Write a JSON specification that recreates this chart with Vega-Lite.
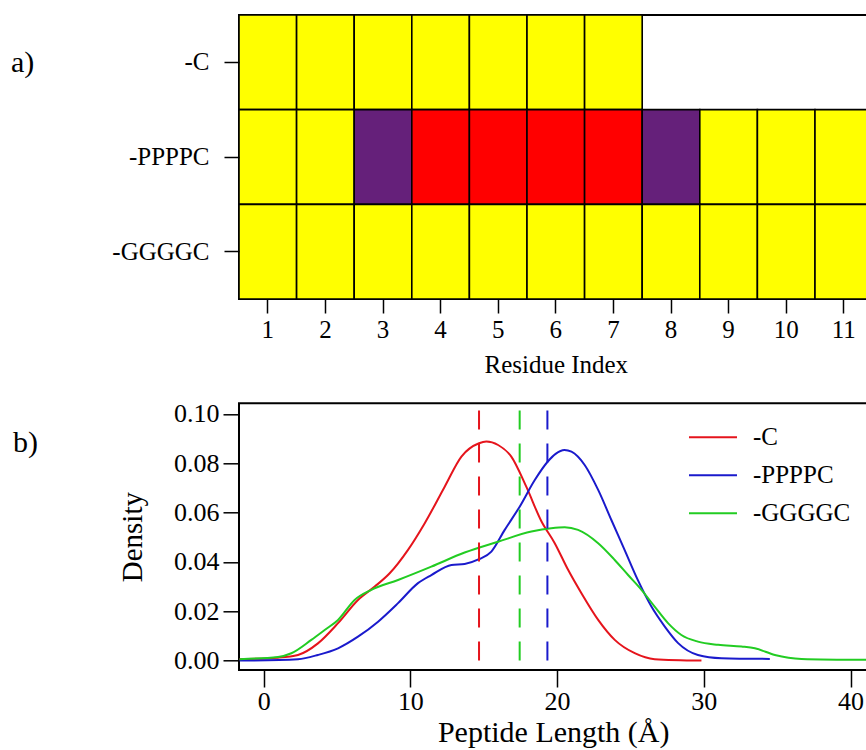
{
  "$schema": "https://vega.github.io/schema/vega-lite/v6.json",
  "background": "white",
  "padding": {"left": 10, "top": 14, "right": 0, "bottom": 0},
  "autosize": {"type": "pad"},
  "bounds": "flush",
  "spacing": 104.3,
  "resolve": {"scale": {"color": "independent", "stroke": "independent"}, "legend": {"color": "independent"}},
  "config": {
    "font": "Liberation Serif",
    "view": {"stroke": "black", "strokeWidth": 2},
    "axis": {
      "labelFont": "Liberation Serif", "titleFont": "Liberation Serif",
      "labelColor": "black", "titleColor": "black", "tickColor": "black",
      "domain": false, "grid": false, "tickWidth": 1.5,
      "titleFontWeight": "normal", "labelFontSize": 25, "titleFontSize": 25
    },
    "legend": {"labelFont": "Liberation Serif"},
    "title": {"font": "Liberation Serif", "fontWeight": "normal", "fontSize": 30, "color": "black"}
  },
  "vconcat": [
    {
      "width": 628.4,
      "height": 284,
      "title": {"text": "a)", "anchor": "start", "frame": "group", "offset": 0, "baseline": "middle", "dx": -228, "dy": 78},
      "data": {"values": [
        {"peptide": "-C", "residue": 1, "state": "Coil"},
        {"peptide": "-C", "residue": 2, "state": "Coil"},
        {"peptide": "-C", "residue": 3, "state": "Coil"},
        {"peptide": "-C", "residue": 4, "state": "Coil"},
        {"peptide": "-C", "residue": 5, "state": "Coil"},
        {"peptide": "-C", "residue": 6, "state": "Coil"},
        {"peptide": "-C", "residue": 7, "state": "Coil"},
        {"peptide": "-PPPPC", "residue": 1, "state": "Coil"},
        {"peptide": "-PPPPC", "residue": 2, "state": "Coil"},
        {"peptide": "-PPPPC", "residue": 3, "state": "Bend"},
        {"peptide": "-PPPPC", "residue": 4, "state": "PPII"},
        {"peptide": "-PPPPC", "residue": 5, "state": "PPII"},
        {"peptide": "-PPPPC", "residue": 6, "state": "PPII"},
        {"peptide": "-PPPPC", "residue": 7, "state": "PPII"},
        {"peptide": "-PPPPC", "residue": 8, "state": "Bend"},
        {"peptide": "-PPPPC", "residue": 9, "state": "Coil"},
        {"peptide": "-PPPPC", "residue": 10, "state": "Coil"},
        {"peptide": "-PPPPC", "residue": 11, "state": "Coil"},
        {"peptide": "-GGGGC", "residue": 1, "state": "Coil"},
        {"peptide": "-GGGGC", "residue": 2, "state": "Coil"},
        {"peptide": "-GGGGC", "residue": 3, "state": "Coil"},
        {"peptide": "-GGGGC", "residue": 4, "state": "Coil"},
        {"peptide": "-GGGGC", "residue": 5, "state": "Coil"},
        {"peptide": "-GGGGC", "residue": 6, "state": "Coil"},
        {"peptide": "-GGGGC", "residue": 7, "state": "Coil"},
        {"peptide": "-GGGGC", "residue": 8, "state": "Coil"},
        {"peptide": "-GGGGC", "residue": 9, "state": "Coil"},
        {"peptide": "-GGGGC", "residue": 10, "state": "Coil"},
        {"peptide": "-GGGGC", "residue": 11, "state": "Coil"}
      ]},
      "mark": {"type": "rect", "stroke": "black", "strokeWidth": 1.6, "clip": true},
      "encoding": {
        "x": {
          "field": "residue", "type": "ordinal",
          "scale": {"range": [0, 633.6], "paddingInner": 0, "paddingOuter": 0},
          "axis": {"title": "Residue Index", "labelAngle": 0, "tickSize": 14, "labelPadding": 4, "titlePadding": 10}
        },
        "y": {
          "field": "peptide", "type": "nominal",
          "sort": ["-C", "-PPPPC", "-GGGGC"],
          "scale": {"paddingInner": 0, "paddingOuter": 0},
          "axis": {"title": null, "tickSize": 15, "labelPadding": 15}
        },
        "color": {
          "field": "state", "type": "nominal",
          "scale": {"domain": ["Coil", "Bend", "PPII"], "range": ["#ffff00", "#65207a", "#ff0000"]},
          "legend": null
        }
      }
    },
    {
      "width": 628.4,
      "height": 266.7,
      "title": {"text": "b)", "anchor": "start", "frame": "group", "offset": 0, "baseline": "middle", "dx": -226, "dy": 72},
      "layer": [
        {
          "data": {"values": [
            {"peptide": "-C", "length": -1.64, "density": 0.0006},
            {"peptide": "-C", "length": 0.98, "density": 0.0012},
            {"peptide": "-C", "length": 2.34, "density": 0.0023},
            {"peptide": "-C", "length": 3.7, "density": 0.007},
            {"peptide": "-C", "length": 5.07, "density": 0.0152},
            {"peptide": "-C", "length": 6.43, "density": 0.0246},
            {"peptide": "-C", "length": 7.57, "density": 0.030},
            {"peptide": "-C", "length": 8.59, "density": 0.0354},
            {"peptide": "-C", "length": 9.84, "density": 0.0449},
            {"peptide": "-C", "length": 10.98, "density": 0.0557},
            {"peptide": "-C", "length": 12.34, "density": 0.0705},
            {"peptide": "-C", "length": 13.48, "density": 0.0827},
            {"peptide": "-C", "length": 14.68, "density": 0.0881},
            {"peptide": "-C", "length": 15.18, "density": 0.0888},
            {"peptide": "-C", "length": 15.98, "density": 0.0874},
            {"peptide": "-C", "length": 16.88, "density": 0.0827},
            {"peptide": "-C", "length": 17.9, "density": 0.0705},
            {"peptide": "-C", "length": 18.93, "density": 0.0565},
            {"peptide": "-C", "length": 19.84, "density": 0.0476},
            {"peptide": "-C", "length": 20.75, "density": 0.0368},
            {"peptide": "-C", "length": 21.66, "density": 0.0273},
            {"peptide": "-C", "length": 22.8, "density": 0.0165},
            {"peptide": "-C", "length": 23.93, "density": 0.0084},
            {"peptide": "-C", "length": 25.29, "density": 0.003},
            {"peptide": "-C", "length": 26.65, "density": 0.0006},
            {"peptide": "-C", "length": 29.84, "density": 0.0},
            {"peptide": "-PPPPC", "length": -1.64, "density": 0.0},
            {"peptide": "-PPPPC", "length": 2.34, "density": 0.0006},
            {"peptide": "-PPPPC", "length": 3.7, "density": 0.0023},
            {"peptide": "-PPPPC", "length": 5.07, "density": 0.005},
            {"peptide": "-PPPPC", "length": 6.43, "density": 0.0097},
            {"peptide": "-PPPPC", "length": 7.8, "density": 0.0158},
            {"peptide": "-PPPPC", "length": 9.16, "density": 0.0233},
            {"peptide": "-PPPPC", "length": 10.52, "density": 0.0314},
            {"peptide": "-PPPPC", "length": 11.43, "density": 0.0347},
            {"peptide": "-PPPPC", "length": 12.8, "density": 0.0388},
            {"peptide": "-PPPPC", "length": 13.7, "density": 0.0392},
            {"peptide": "-PPPPC", "length": 14.68, "density": 0.0411},
            {"peptide": "-PPPPC", "length": 15.52, "density": 0.0442},
            {"peptide": "-PPPPC", "length": 16.43, "density": 0.053},
            {"peptide": "-PPPPC", "length": 17.45, "density": 0.0624},
            {"peptide": "-PPPPC", "length": 18.48, "density": 0.0732},
            {"peptide": "-PPPPC", "length": 19.34, "density": 0.0805},
            {"peptide": "-PPPPC", "length": 19.9, "density": 0.0838},
            {"peptide": "-PPPPC", "length": 20.5, "density": 0.0854},
            {"peptide": "-PPPPC", "length": 20.98, "density": 0.0847},
            {"peptide": "-PPPPC", "length": 21.88, "density": 0.0793},
            {"peptide": "-PPPPC", "length": 22.8, "density": 0.0692},
            {"peptide": "-PPPPC", "length": 23.7, "density": 0.057},
            {"peptide": "-PPPPC", "length": 24.6, "density": 0.0449},
            {"peptide": "-PPPPC", "length": 25.5, "density": 0.0327},
            {"peptide": "-PPPPC", "length": 26.43, "density": 0.0219},
            {"peptide": "-PPPPC", "length": 27.34, "density": 0.0138},
            {"peptide": "-PPPPC", "length": 28.25, "density": 0.0071},
            {"peptide": "-PPPPC", "length": 29.6, "density": 0.0023},
            {"peptide": "-PPPPC", "length": 31.2, "density": 0.001},
            {"peptide": "-PPPPC", "length": 34.5, "density": 0.0007},
            {"peptide": "-GGGGC", "length": -1.64, "density": 0.0006},
            {"peptide": "-GGGGC", "length": 0.98, "density": 0.0015},
            {"peptide": "-GGGGC", "length": 1.89, "density": 0.003},
            {"peptide": "-GGGGC", "length": 3.25, "density": 0.0084},
            {"peptide": "-GGGGC", "length": 4.16, "density": 0.0124},
            {"peptide": "-GGGGC", "length": 5.07, "density": 0.0165},
            {"peptide": "-GGGGC", "length": 6.2, "density": 0.0246},
            {"peptide": "-GGGGC", "length": 7.34, "density": 0.0287},
            {"peptide": "-GGGGC", "length": 9.16, "density": 0.0327},
            {"peptide": "-GGGGC", "length": 11.43, "density": 0.0381},
            {"peptide": "-GGGGC", "length": 13.7, "density": 0.0438},
            {"peptide": "-GGGGC", "length": 15.98, "density": 0.0482},
            {"peptide": "-GGGGC", "length": 18.25, "density": 0.0523},
            {"peptide": "-GGGGC", "length": 19.6, "density": 0.0537},
            {"peptide": "-GGGGC", "length": 20.52, "density": 0.0541},
            {"peptide": "-GGGGC", "length": 21.43, "density": 0.053},
            {"peptide": "-GGGGC", "length": 22.8, "density": 0.0476},
            {"peptide": "-GGGGC", "length": 23.93, "density": 0.0408},
            {"peptide": "-GGGGC", "length": 24.84, "density": 0.0347},
            {"peptide": "-GGGGC", "length": 25.75, "density": 0.0287},
            {"peptide": "-GGGGC", "length": 26.65, "density": 0.0219},
            {"peptide": "-GGGGC", "length": 27.56, "density": 0.0152},
            {"peptide": "-GGGGC", "length": 28.47, "density": 0.0104},
            {"peptide": "-GGGGC", "length": 29.6, "density": 0.0077},
            {"peptide": "-GGGGC", "length": 30.98, "density": 0.0064},
            {"peptide": "-GGGGC", "length": 32.57, "density": 0.0057},
            {"peptide": "-GGGGC", "length": 33.48, "density": 0.005},
            {"peptide": "-GGGGC", "length": 34.84, "density": 0.0023},
            {"peptide": "-GGGGC", "length": 36.66, "density": 0.0007},
            {"peptide": "-GGGGC", "length": 41.15, "density": 0.0003}
          ]},
          "mark": {"type": "line", "strokeWidth": 2, "interpolate": "monotone", "clip": true},
          "encoding": {
            "x": {
              "field": "length", "type": "quantitative",
              "scale": {"domain": [-1.68, 41.15], "nice": false, "zero": false},
              "axis": {"title": "Peptide Length (Å)", "values": [0, 10, 20, 30, 40], "tickSize": 17, "labelPadding": 2, "labelFontSize": 26, "titleFontSize": 30, "titlePadding": 3}
            },
            "y": {
              "field": "density", "type": "quantitative",
              "scale": {"domain": [-0.0038, 0.1043], "nice": false, "zero": false},
              "axis": {"title": "Density", "values": [0, 0.02, 0.04, 0.06, 0.08, 0.1], "format": ".2f", "tickSize": 16, "labelPadding": 4, "labelFontSize": 26, "titleFontSize": 29, "titlePadding": 26}
            },
            "color": {
              "field": "peptide", "type": "nominal",
              "scale": {"domain": ["-C", "-PPPPC", "-GGGGC"], "range": ["#e5141c", "#1a1acc", "#22cc22"]},
              "legend": {
                "title": null, "orient": "none", "legendX": 449, "legendY": 9,
                "labelFontSize": 25, "labelFont": "Liberation Serif", "labelColor": "black",
                "symbolType": "stroke", "symbolSize": 2304, "symbolStrokeWidth": 2,
                "labelOffset": 15, "rowPadding": -16, "padding": 0
              }
            }
          }
        },
        {
          "data": {"values": [
            {"peptide": "-C", "mean": 14.68},
            {"peptide": "-GGGGC", "mean": 17.45},
            {"peptide": "-PPPPC", "mean": 19.34}
          ]},
          "mark": {"type": "rule", "strokeWidth": 2, "strokeDash": [19, 14]},
          "encoding": {
            "x": {"field": "mean", "type": "quantitative"},
            "y": {"datum": 0},
            "y2": {"datum": 0.1043},
            "stroke": {
              "field": "peptide", "type": "nominal",
              "scale": {"domain": ["-C", "-PPPPC", "-GGGGC"], "range": ["#e5141c", "#1a1acc", "#22cc22"]},
              "legend": null
            }
          }
        }
      ]
    }
  ]
}
